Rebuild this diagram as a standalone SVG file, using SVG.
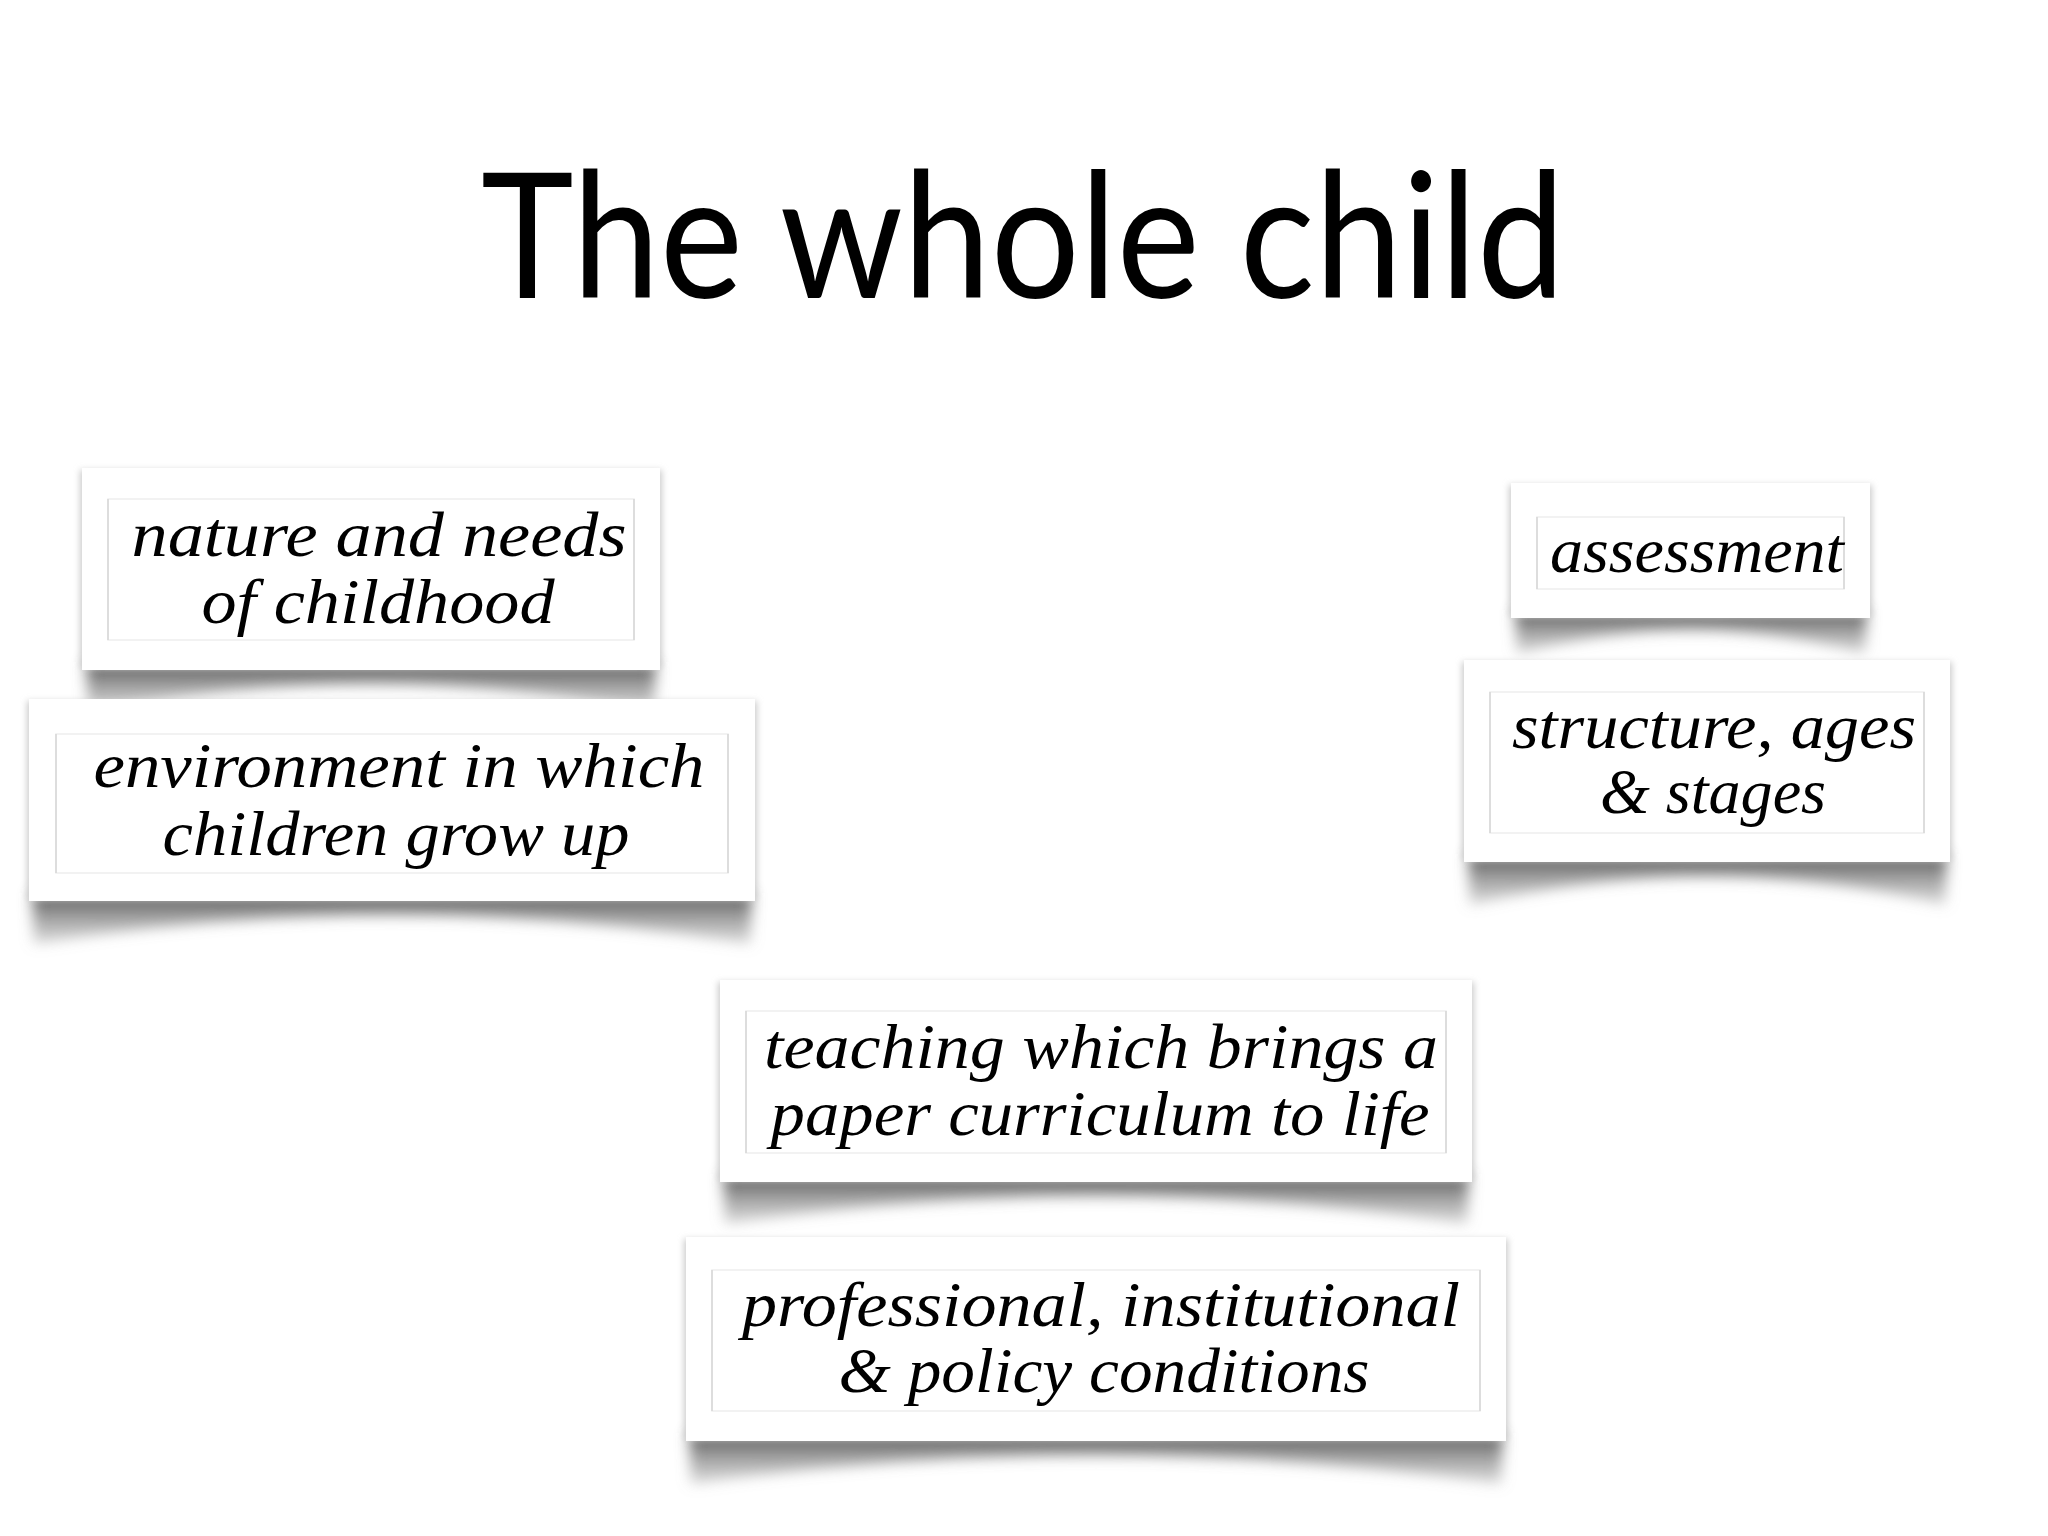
<svg xmlns="http://www.w3.org/2000/svg" width="2048" height="1536" viewBox="0 0 2048 1536">
<defs>
<filter id="blur" x="-10%" y="-60%" width="120%" height="220%"><feGaussianBlur stdDeviation="7"/></filter>
<filter id="edge" x="-5%" y="-5%" width="110%" height="110%"><feGaussianBlur stdDeviation="3"/></filter>
<linearGradient id="sh" x1="0" y1="0" x2="0" y2="1"><stop offset="0" stop-color="#555555"/><stop offset="1" stop-color="#999999" stop-opacity="0.35"/></linearGradient>
</defs>
<style>
.card{fill:#ffffff}
.edge{fill:#cccccc}
.shadow{fill:url(#sh)}
.frame{fill:none;stroke:#eeeeee;stroke-width:1.5}
.side{stroke:#d6d6d6;stroke-width:1.5}
.lbl{font-family:"Liberation Serif","DejaVu Serif",serif;font-style:italic;font-size:64px;fill:#000;text-anchor:middle}
.title{font-family:Lato,"Open Sans","Liberation Sans",sans-serif;font-size:174px;fill:#000;text-anchor:middle}
</style>
<rect width="2048" height="1536" fill="#ffffff"/>
<text class="title" x="1023" y="298" textLength="1084" lengthAdjust="spacingAndGlyphs">The whole child</text>

<g id="node-nature">
<path class="shadow" filter="url(#blur)" d="M86,662 L656,662 L654,712 Q371,656 88,712 Z"/>
<rect class="edge" filter="url(#edge)" x="80" y="470" width="582" height="198"/>
<rect class="card" x="82" y="468" width="578" height="202"/>
<rect class="frame" x="108" y="499" width="526" height="141"/>
<path class="side" d="M108,499 V640 M634,499 V640"/>
<text class="lbl" x="379" y="556" textLength="495" lengthAdjust="spacingAndGlyphs">nature and needs</text>
<text class="lbl" x="378" y="623" textLength="353" lengthAdjust="spacingAndGlyphs">of childhood</text>
</g>

<g id="node-environment">
<path class="shadow" filter="url(#blur)" d="M32,893 L752,893 L750,944 Q392,886 34,944 Z"/>
<rect class="edge" filter="url(#edge)" x="27" y="701" width="730" height="198"/>
<rect class="card" x="29" y="699" width="726" height="202"/>
<rect class="frame" x="56" y="734" width="672" height="139"/>
<path class="side" d="M56,734 V873 M728,734 V873"/>
<text class="lbl" x="399" y="787" textLength="611" lengthAdjust="spacingAndGlyphs">environment in which</text>
<text class="lbl" x="396" y="855" textLength="467" lengthAdjust="spacingAndGlyphs">children grow up</text>
</g>

<g id="node-assessment">
<path class="shadow" filter="url(#blur)" d="M1515,610 L1867,610 L1865,654 Q1691,606 1517,654 Z"/>
<rect class="edge" filter="url(#edge)" x="1509" y="485" width="363" height="131"/>
<rect class="card" x="1511" y="483" width="359" height="135"/>
<rect class="frame" x="1537" y="517" width="307" height="72"/>
<path class="side" d="M1537,517 V589 M1844,517 V589"/>
<text class="lbl" x="1697" y="572" textLength="294" lengthAdjust="spacingAndGlyphs">assessment</text>
</g>

<g id="node-structure">
<path class="shadow" filter="url(#blur)" d="M1468,854 L1947,854 L1945,905 Q1707,848 1470,905 Z"/>
<rect class="edge" filter="url(#edge)" x="1462" y="662" width="490" height="198"/>
<rect class="card" x="1464" y="660" width="486" height="202"/>
<rect class="frame" x="1490" y="692" width="434" height="141"/>
<path class="side" d="M1490,692 V833 M1924,692 V833"/>
<text class="lbl" x="1714" y="748" textLength="404" lengthAdjust="spacingAndGlyphs">structure, ages</text>
<text class="lbl" x="1713" y="813" textLength="226" lengthAdjust="spacingAndGlyphs">&amp; stages</text>
</g>

<g id="node-teaching">
<path class="shadow" filter="url(#blur)" d="M723,1174 L1469,1174 L1467,1224 Q1096,1168 725,1224 Z"/>
<rect class="edge" filter="url(#edge)" x="718" y="982" width="756" height="198"/>
<rect class="card" x="720" y="980" width="752" height="202"/>
<rect class="frame" x="746" y="1011" width="700" height="142"/>
<path class="side" d="M746,1011 V1153 M1446,1011 V1153"/>
<text class="lbl" x="1101" y="1068" textLength="674" lengthAdjust="spacingAndGlyphs">teaching which brings a</text>
<text class="lbl" x="1100" y="1135" textLength="659" lengthAdjust="spacingAndGlyphs">paper curriculum to life</text>
</g>

<g id="node-professional">
<path class="shadow" filter="url(#blur)" d="M689,1433 L1503,1433 L1501,1484 Q1096,1426 691,1484 Z"/>
<rect class="edge" filter="url(#edge)" x="684" y="1239" width="824" height="200"/>
<rect class="card" x="686" y="1237" width="820" height="204"/>
<rect class="frame" x="712" y="1270" width="768" height="141"/>
<path class="side" d="M712,1270 V1411 M1480,1270 V1411"/>
<text class="lbl" x="1101" y="1326" textLength="718" lengthAdjust="spacingAndGlyphs">professional, institutional</text>
<text class="lbl" x="1104" y="1392" textLength="531" lengthAdjust="spacingAndGlyphs">&amp; policy conditions</text>
</g>

<g id="connectors"/>
</svg>
